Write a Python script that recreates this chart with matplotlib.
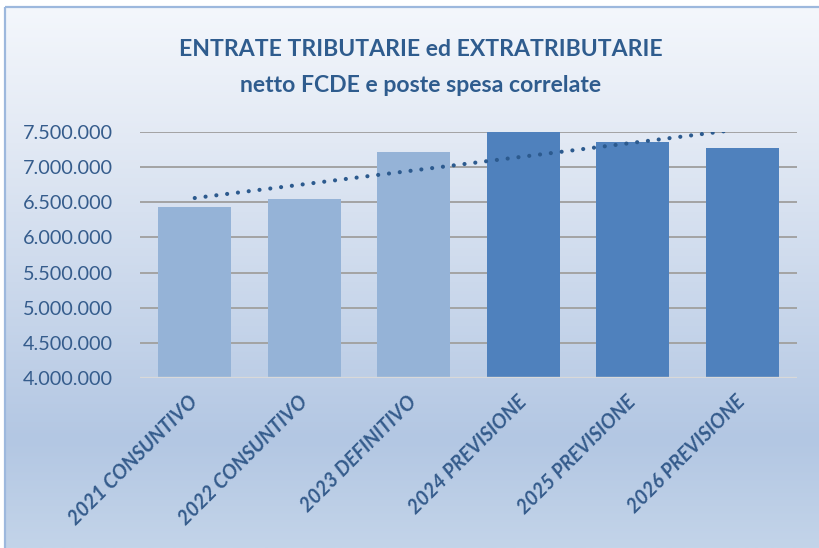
import numpy as np
import matplotlib
matplotlib.use("Agg")
import matplotlib.pyplot as plt
from matplotlib.colors import LinearSegmentedColormap
from matplotlib.ticker import FuncFormatter

categories = ["2021 CONSUNTIVO", "2022 CONSUNTIVO", "2023 DEFINITIVO",
              "2024 PREVISIONE", "2025 PREVISIONE", "2026 PREVISIONE"]
values = [6437000, 6542000, 7211000, 7500000, 7353000, 7268000]
bar_colors = ["#95B3D7", "#95B3D7", "#95B3D7", "#4F81BD", "#4F81BD", "#4F81BD"]
yticks = [4000000, 4500000, 5000000, 5500000, 6000000, 6500000, 7000000, 7500000]
title_lines = ["ENTRATE TRIBUTARIE ed EXTRATRIBUTARIE", "netto FCDE e poste spesa correlate"]

W, H = 819, 548
fig = plt.figure(figsize=(W / 100, H / 100), dpi=100)

# background gradient
bg = fig.add_axes([0, 0, 1, 1], zorder=-10)
bg.set_xlim(0, W)
bg.set_ylim(H, 0)
bg.axis("off")
cmap = LinearSegmentedColormap.from_list(
    "bg", [(0.0, "#F4F7FC"), (0.25, "#E2E9F4"), (0.8, "#B3C7E3"), (1.0, "#C3D4E9")])
grad = np.linspace(0, 1, 256).reshape(-1, 1)
bg.imshow(grad, cmap=cmap, extent=[5, W, H, 7], aspect="auto", zorder=0)
bg.plot([5, 5], [7, H], color="#9DB8DD", lw=1.6, zorder=1, solid_capstyle="butt")
bg.plot([5, W], [7, 7], color="#9DB8DD", lw=1.6, zorder=1, solid_capstyle="butt")

ax = fig.add_axes([140 / W, 1 - 378 / H, (797 - 140) / W, (378 - 132) / H])
ax.set_facecolor("none")
x = np.arange(len(categories))
ax.bar(x, values, width=0.67, color=bar_colors, zorder=3)

# linear trend line
coef = np.polyfit(x, values, 1)
trend = np.polyval(coef, x)
ax.plot(x, trend, color="#2C5A8E", lw=3.0, linestyle=(0, (0.01, 2.6)),
        dash_capstyle="round", zorder=4)

ax.set_xlim(-0.5, 5.5)
ax.set_ylim(4000000, 7500000)
ax.set_yticks(yticks)
ax.yaxis.set_major_formatter(FuncFormatter(lambda v, p: f"{int(v):,}".replace(",", ".")))
for t in yticks[1:]:
    ax.axhline(t, color="#A3A3A3", lw=1.4, zorder=1)
ax.axhline(4000000, color="#D9D9D9", lw=2.4, zorder=5)
for s in ax.spines.values():
    s.set_visible(False)
ax.tick_params(axis="y", length=0, pad=19.5, labelsize=14.3, labelcolor="#355C8C")
ax.tick_params(axis="x", length=0, pad=15)
ax.set_xticks(x)
ax.set_xticklabels(categories, rotation=45, ha="right", va="center",
                   rotation_mode="anchor", fontsize=14.2, fontweight="bold",
                   fontstyle="italic", color="#355C8C", family="Lato")
for lab in ax.get_yticklabels():
    lab.set_family("Lato")

for line, yc in zip(title_lines, [49, 86]):
    fig.text(421 / W, 1 - yc / H, line, ha="center", va="center", fontsize=16.6,
             fontweight="bold", color="#2F5C8E", family="Lato")

fig.savefig("out.png", dpi=100)
